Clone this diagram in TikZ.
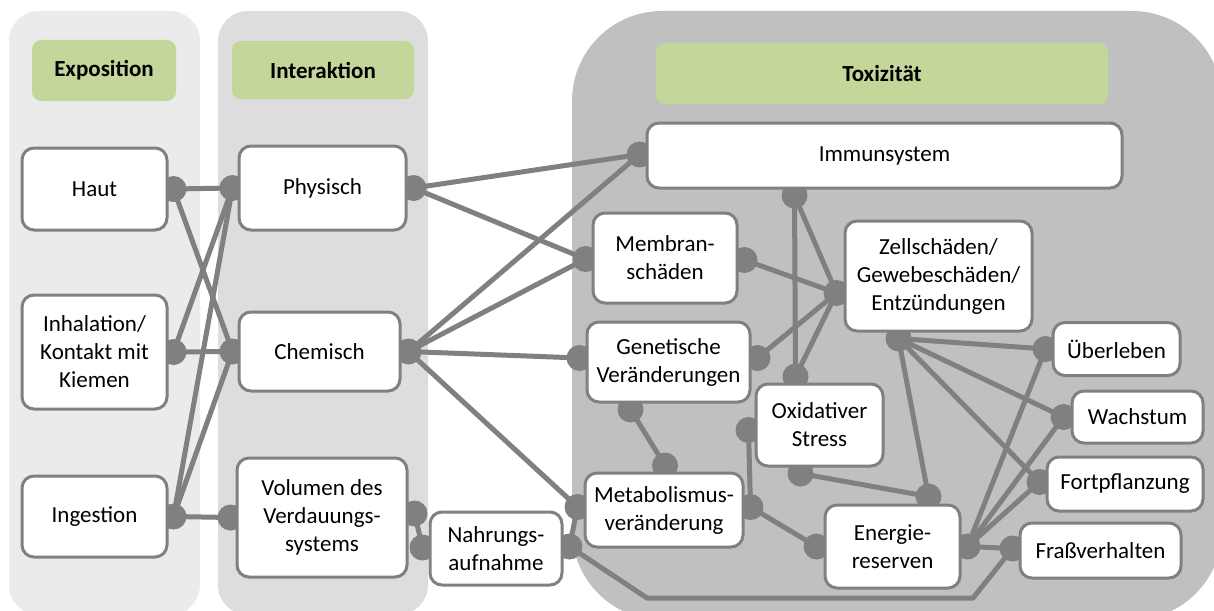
\documentclass[tikz,border=0pt]{standalone}
\usepackage{fontspec}
\setmainfont{Carlito}
\pgfdeclarelayer{panel}
\pgfdeclarelayer{wires}
\pgfsetlayers{panel,wires,main}
\definecolor{lineg}{RGB}{128,128,128}
\definecolor{panA}{RGB}{235,235,235}
\definecolor{panB}{RGB}{221,221,221}
\definecolor{panC}{RGB}{192,192,192}
\definecolor{hdr}{RGB}{196,215,155}
\tikzset{
 box/.style={draw=lineg, line width=3pt, fill=white, rounded corners=12pt, inner sep=0pt, align=center, font=\fontsize{23}{28}\selectfont},
 hdrbox/.style={fill=hdr, rounded corners=9pt, inner sep=0pt, font=\bfseries\fontsize{23}{28}\selectfont},
 conn/.style={draw=lineg, line width=5pt, line join=round},
 dotc/.style={fill=lineg},
}
\begin{document}
\begin{tikzpicture}[x=1pt,y=-1pt]
\useasboundingbox (0,0) rectangle (1214,610);
% headers
\node[hdrbox, minimum width=144pt, minimum height=61pt] (hexp) at (104,70.5) {Exposition};
\node[hdrbox, minimum width=182pt, minimum height=58pt] (hint) at (323,70) {Interaktion};
\node[hdrbox, minimum width=452pt, minimum height=61pt] (htox) at (882,73.5) {Toxizität};
% boxes
\node[box, minimum width=145pt, minimum height=82pt] (haut) at (94.5,189) {Haut};
\node[box, minimum width=145pt, minimum height=114pt] (inhal) at (94.5,352) {Inhalation/\\Kontakt mit\\Kiemen};
\node[box, minimum width=145pt, minimum height=81pt] (ingest) at (94.5,516.5) {Ingestion};
\node[box, minimum width=167pt, minimum height=84pt] (phys) at (322.5,188) {Physisch};
\node[box, minimum width=161pt, minimum height=79pt] (chem) at (319.5,351.5) {Chemisch};
\node[box, minimum width=170pt, minimum height=119pt] (vol) at (322,517.5) {Volumen des\\Verdauungs-\\systems};
\node[box, minimum width=132pt, minimum height=73pt] (nahr) at (496,548.5) {Nahrungs-\\aufnahme};
\node[box, minimum width=475pt, minimum height=65pt] (immun) at (884.5,155.5) {Immunsystem};
\node[box, minimum width=144pt, minimum height=90pt] (membran) at (665,258) {Membran-\\schäden};
\node[box, minimum width=163pt, minimum height=80pt] (genet) at (668.5,362) {Genetische\\Veränderungen};
\node[box, minimum width=158pt, minimum height=74pt] (metab) at (664,510) {Metabolismus-\\veränderung};
\node[box, minimum width=127pt, minimum height=82pt] (oxid) at (819.5,425) {Oxidativer\\Stress};
\node[box, minimum width=187pt, minimum height=110pt] (zell) at (938.5,276) {Zellschäden/\\Gewebeschäden/\\Entzündungen};
\node[box, minimum width=135pt, minimum height=83pt] (energie) at (892.5,546.5) {Energie-\\reserven};
\node[box, minimum width=127pt, minimum height=53pt] (ueber) at (1116.5,349) {Überleben};
\node[box, minimum width=131pt, minimum height=52pt] (wachs) at (1137.5,417) {Wachstum};
\node[box, minimum width=156pt, minimum height=54pt] (fort) at (1125,484) {Fortpflanzung};
\node[box, minimum width=161pt, minimum height=55pt] (frass) at (1100.5,550.5) {Fraßverhalten};
% connection points
\coordinate (haut-e) at ([shift={(5,0)}]haut.east);
\coordinate (inhal-e) at ([shift={(5,0)}]inhal.east);
\coordinate (ingest-e) at ([shift={(5,0)}]ingest.east);
\coordinate (phys-w) at ([shift={(-5,0)}]phys.west);
\coordinate (phys-e) at ([shift={(6,0)}]phys.east);
\coordinate (chem-w) at ([shift={(-5,0)}]chem.west);
\coordinate (chem-e) at ([shift={(7,0)}]chem.east);
\coordinate (vol-w) at ([shift={(-5,0)}]vol.west);
\coordinate (vol-e) at ([shift={(6,-4)}]vol.east);
\coordinate (nahr-w) at ([shift={(-6,-1)}]nahr.west);
\coordinate (nahr-e) at ([shift={(6,-2)}]nahr.east);
\coordinate (immun-w) at ([shift={(-6,-1)}]immun.west);
\coordinate (immun-s) at ([shift={(-90,6)}]immun.south);
\coordinate (membran-w) at ([shift={(-6,1)}]membran.west);
\coordinate (membran-e) at ([shift={(6,2)}]membran.east);
\coordinate (genet-w) at ([shift={(-6,-4)}]genet.west);
\coordinate (genet-e) at ([shift={(6,-4)}]genet.east);
\coordinate (genet-s) at ([shift={(-38,6)}]genet.south);
\coordinate (metab-n) at ([shift={(1,-6)}]metab.north);
\coordinate (metab-w) at ([shift={(-6,-3)}]metab.west);
\coordinate (metab-e) at ([shift={(6,-3)}]metab.east);
\coordinate (oxid-n) at ([shift={(-24,-6)}]oxid.north);
\coordinate (oxid-w) at ([shift={(-6,5)}]oxid.west);
\coordinate (oxid-s) at ([shift={(-19,6)}]oxid.south);
\coordinate (zell-w) at ([shift={(-7,17)}]zell.west);
\coordinate (zell-s) at ([shift={(-40,6)}]zell.south);
\coordinate (energie-w) at ([shift={(-7,0)}]energie.west);
\coordinate (energie-n) at ([shift={(36,-7)}]energie.north);
\coordinate (energie-e) at ([shift={(6,0)}]energie.east);
\coordinate (ueber-w) at ([shift={(-6,0)}]ueber.west);
\coordinate (wachs-w) at ([shift={(-7,0)}]wachs.west);
\coordinate (fort-w) at ([shift={(-6,-2)}]fort.west);
\coordinate (frass-w) at ([shift={(-6,-2)}]frass.west);
\coordinate (b1) at (647,598);
\coordinate (b2) at (973,598);
% panels
\begin{pgfonlayer}{panel}
\fill[panA, rounded corners=30pt] (9,11) rectangle (200,615);
\fill[panB, rounded corners=30pt] (218,11) rectangle (428,615);
\fill[panC, rounded corners=90pt] (572,11) rectangle (1222,620);
\end{pgfonlayer}
% connectors
\begin{pgfonlayer}{wires}
\draw[conn] (haut-e) -- (phys-w);
\draw[conn] (haut-e) -- (chem-w);
\draw[conn] (inhal-e) -- (phys-w);
\draw[conn] (inhal-e) -- (chem-w);
\draw[conn] (ingest-e) -- (phys-w);
\draw[conn] (ingest-e) -- (chem-w);
\draw[conn] (ingest-e) -- (vol-w);
\draw[conn] (phys-e) -- (immun-w);
\draw[conn] (phys-e) -- (membran-w);
\draw[conn] (chem-e) -- (immun-w);
\draw[conn] (chem-e) -- (membran-w);
\draw[conn] (chem-e) -- (genet-w);
\draw[conn] (chem-e) -- (metab-w);
\draw[conn] (vol-e) -- (nahr-w);
\draw[conn] (nahr-e) -- (metab-w);
\draw[conn] (nahr-e) -- (b1) -- (b2) -- (frass-w);
\draw[conn] (immun-s) -- (oxid-n);
\draw[conn] (immun-s) -- (zell-w);
\draw[conn] (membran-e) -- (zell-w);
\draw[conn] (genet-e) -- (zell-w);
\draw[conn] (genet-s) -- (metab-n);
\draw[conn] (zell-w) -- (oxid-n);
\draw[conn] (metab-e) -- (oxid-w);
\draw[conn] (metab-e) -- (energie-w);
\draw[conn] (oxid-s) -- (energie-n);
\draw[conn] (zell-s) -- (ueber-w);
\draw[conn] (zell-s) -- (wachs-w);
\draw[conn] (zell-s) -- (fort-w);
\draw[conn] (zell-s) -- (energie-n);
\draw[conn] (energie-e) -- (ueber-w);
\draw[conn] (energie-e) -- (wachs-w);
\draw[conn] (energie-e) -- (fort-w);
\draw[conn] (energie-e) -- (frass-w);
\foreach \p in {haut-e,inhal-e,ingest-e,phys-w,phys-e,chem-w,chem-e,vol-w,vol-e,nahr-w,nahr-e,immun-w,immun-s,membran-w,membran-e,genet-w,genet-e,genet-s,metab-n,metab-w,metab-e,oxid-n,oxid-w,oxid-s,zell-w,zell-s,energie-w,energie-n,energie-e,ueber-w,wachs-w,fort-w,frass-w}
  \fill[dotc] (\p) circle[radius=13pt];
\end{pgfonlayer}
\end{tikzpicture}
\end{document}
